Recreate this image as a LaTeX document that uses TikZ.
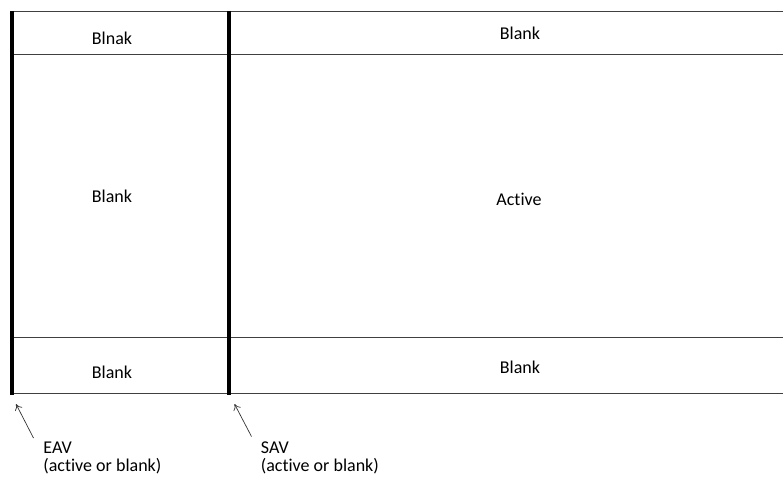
\documentclass[tikz,border=0pt]{standalone}
\usepackage{fontspec}
\setmainfont[RawFeature={-liga;-clig;-dlig}]{Carlito}
\usetikzlibrary{arrows.meta}
\tikzset{
  thinline/.style={draw=black!75, line width=0.55pt},
  thickline/.style={draw=black, line width=1.6pt},
  lbl/.style={anchor=base, inner sep=0pt, font=\fontsize{9}{9}\selectfont},
  note/.style={anchor=north west, inner sep=0pt, align=left, font=\fontsize{9}{9}\selectfont},
  pointer/.style={draw=black!80, line width=0.35pt, -{To[length=3pt,width=4pt]}}
}
\begin{document}
\begin{tikzpicture}[x=0.5pt,y=-0.5pt]
\useasboundingbox (0,0) rectangle (783,478);
% horizontal lines
\coordinate (h1l) at (11,11.5);  \coordinate (h1r) at (783,11.5);
\coordinate (h2l) at (11,54.5);  \coordinate (h2r) at (783,54.5);
\coordinate (h3l) at (11,337.5); \coordinate (h3r) at (783,337.5);
\coordinate (h4l) at (11,393.5); \coordinate (h4r) at (783,393.5);
\draw[thinline] (h1l) -- (h1r);
\draw[thinline] (h2l) -- (h2r);
\draw[thinline] (h3l) -- (h3r);
\draw[thinline] (h4l) -- (h4r);
% thick vertical lines
\coordinate (eavt) at (12,11); \coordinate (eavb) at (12,395);
\coordinate (savt) at (229,11); \coordinate (savb) at (229,395);
\draw[thickline] (eavt) -- (eavb);
\draw[thickline] (savt) -- (savb);
% cell labels
\node[lbl] (tl) at (112,44) {Blnak};
\node[lbl] (tr) at (520,39) {Blank};
\node[lbl] (ml) at (112,202) {Blank};
\node[lbl] (mr) at (519,205) {Act\kern0pt ive};
\node[lbl] (bl) at (112,378) {Blank};
\node[lbl] (br) at (520,373) {Blank};
% notes
\node[note] (eav) at (43,441.5) {EAV\\(active or blank)};
\node[note] (sav) at (260.5,441.5) {SAV\\(active or blank)};
\coordinate (eavtail) at (33.5,438);
\coordinate (eavtip) at (16,404);
\coordinate (savtail) at (251.5,436.5);
\coordinate (savtip) at (234.5,404);
\draw[pointer] (eavtail) -- (eavtip);
\draw[pointer] (savtail) -- (savtip);
\end{tikzpicture}
\end{document}
